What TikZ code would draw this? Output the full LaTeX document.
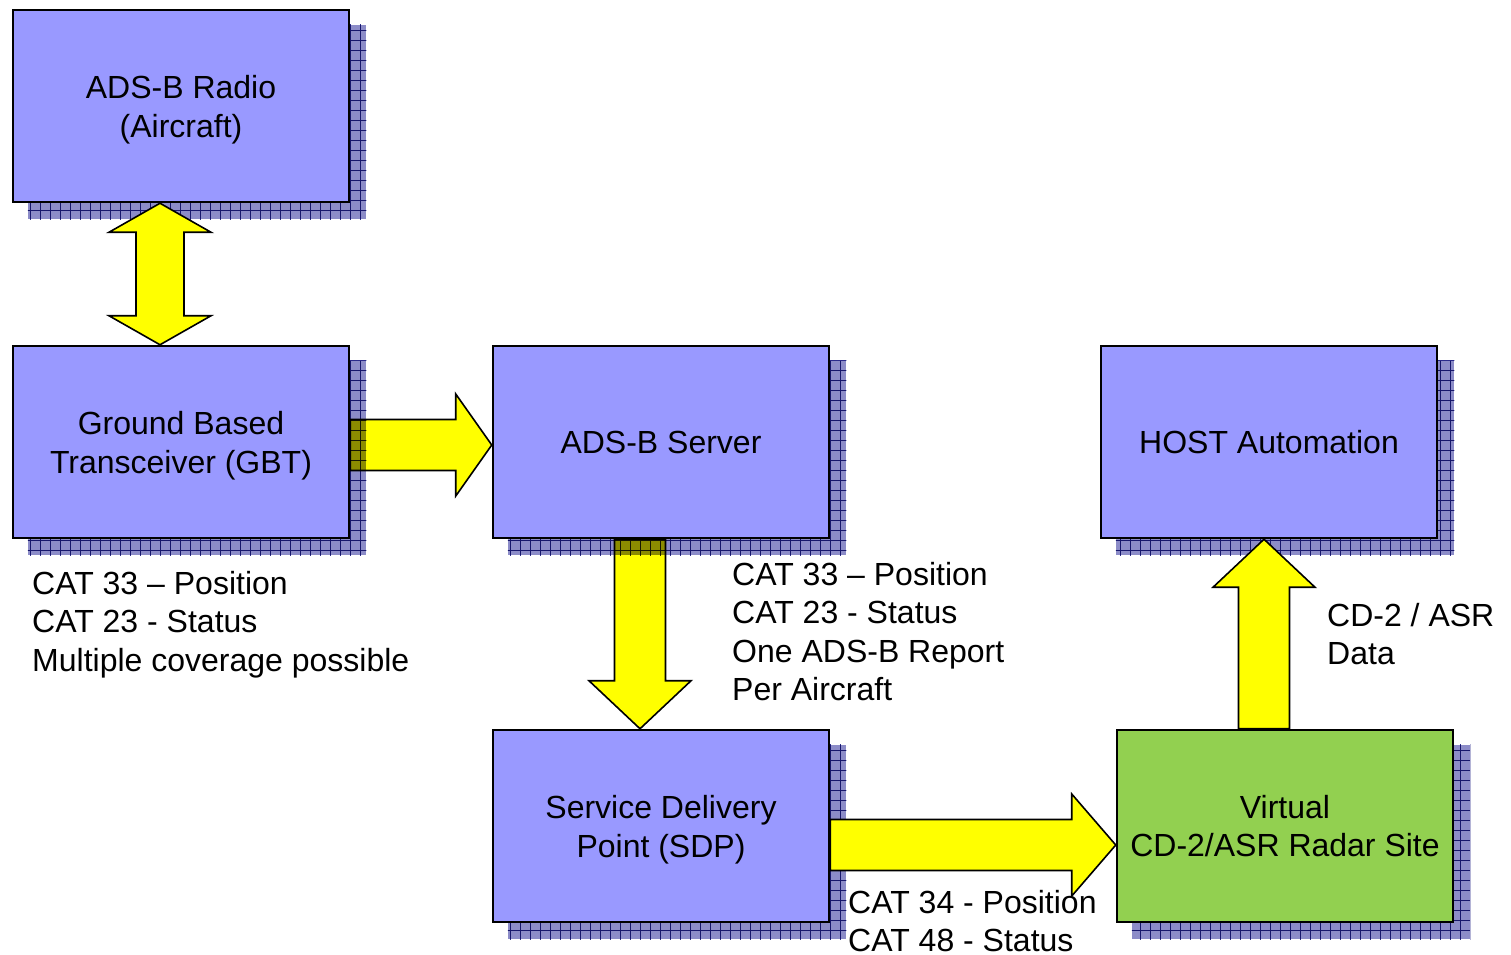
\documentclass[tikz,border=0pt]{standalone}
\usepackage{fontspec}
\setmainfont{Liberation Sans}
\usetikzlibrary{calc,backgrounds}

\definecolor{boxblue}{HTML}{9999FF}
\definecolor{boxgreen}{HTML}{92D050}
\definecolor{arrowyellow}{HTML}{FFFF00}
\definecolor{shadowfill}{HTML}{8C8CC8}
\definecolor{shadowline}{HTML}{2A2A8A}

\newcommand{\diagfont}{\fontsize{32}{38.5}\selectfont}
\newcommand{\topstrut}{\rule{0pt}{31pt}}

% fat block arrow from #2 to #3, head length #1
\newcommand{\fatarrow}[3][40pt]{%
  \coordinate (fa-h) at ($(#3)!#1!(#2)$);
  \draw[fatarrowstyle] ($(#2)!25.5pt!90:(#3)$) -- ($(fa-h)!25.5pt!-90:(#2)$)
    -- ($(fa-h)!51pt!-90:(#2)$) -- (#3) -- ($(fa-h)!51pt!90:(#2)$)
    -- ($(fa-h)!25.5pt!90:(#2)$) -- ($(#2)!25.5pt!-90:(#3)$) -- cycle;}

% double headed block arrow between #1 and #2
\newcommand{\dblarrow}[2]{%
  \coordinate (da-h1) at ($(#1)!29pt!(#2)$);
  \coordinate (da-h2) at ($(#2)!29pt!(#1)$);
  \draw[fatarrowstyle] (#1) -- ($(da-h1)!51pt!-90:(#2)$) -- ($(da-h1)!24pt!-90:(#2)$)
    -- ($(da-h2)!24pt!90:(#1)$) -- ($(da-h2)!51pt!90:(#1)$) -- (#2)
    -- ($(da-h2)!51pt!-90:(#1)$) -- ($(da-h2)!24pt!-90:(#1)$)
    -- ($(da-h1)!24pt!90:(#2)$) -- ($(da-h1)!51pt!90:(#2)$) -- cycle;}

\tikzset{
  blockbox/.style={draw, line width=2.5pt, fill=boxblue, minimum width=336pt,
    minimum height=192pt, inner sep=0pt, align=center, font=\diagfont},
  notetext/.style={inner sep=0pt, align=left, anchor=north west, font=\diagfont},
  fatarrowstyle/.style={draw, line width=1.6pt, fill=arrowyellow, line join=miter},
  shadowbg/.style={fill=shadowfill},
  shadowgrid/.style={draw=shadowline, line width=0.6pt}
}

\begin{document}
\begin{tikzpicture}[x=1pt, y=-1pt]
\useasboundingbox (0,0) rectangle (1511,954);

% Boxes
\node[blockbox] (radio) at (181,106) {\topstrut ADS-B Radio\\(Aircraft)};
\node[blockbox] (gbt) at (181,442) {\topstrut Ground Based\\Transceiver (GBT)};
\node[blockbox] (server) at (661,442) {ADS-B Server};
\node[blockbox] (host) at (1269,442) {HOST Automation};
\node[blockbox] (sdp) at (661,826) {\topstrut Service Delivery\\Point (SDP)};
\node[blockbox, fill=boxgreen] (virtual) at (1285,826) {Virtual\\CD-2/ASR Radar Site};

% Notes
\node[notetext] (gbtnote) at (32,571) {CAT 33 – Position\\CAT 23 - Status\\Multiple coverage possible};
\node[notetext] (servernote) at (732,562) {CAT 33 – Position\\CAT 23 - Status\\One ADS-B Report\\Per Aircraft};
\node[notetext] (hostnote) at (1327,603) {CD-2 / ASR\\Data};
\node[notetext] (sdpnote) at (848,890) {CAT 34 - Position\\CAT 48 - Status};

% Arrows and shadows
\begin{pgfonlayer}{background}
\coordinate (g2) at ($(gbt.east)+(0,3)$);
\coordinate (s1) at ($(server.west)+(0,3)$);
\fatarrow[36pt]{g2}{s1}
\coordinate (s2) at ($(server.south)+(-21,0)$);
\coordinate (d1) at ($(sdp.north)+(-21,0)$);
\fatarrow[48pt]{s2}{d1}

\begin{scope}[blend mode=multiply]
\foreach \n in {radio,gbt,server,host,sdp,virtual}{
  \fill[shadowbg] ($(\n.north west)+(16,16)$) rectangle ($(\n.south east)+(16,16)$);
  \begin{scope}
    \clip ($(\n.north west)+(16,16)$) rectangle ($(\n.south east)+(16,16)$);
    \draw[shadowgrid, step=10pt] ($(\n.north west)+(10,10)$) grid ($(\n.south east)+(22,22)$);
  \end{scope}
}
\end{scope}

\coordinate (r1) at ($(radio.south)+(-21,0)$);
\coordinate (g1) at ($(gbt.north)+(-21,0)$);
\dblarrow{r1}{g1}
\coordinate (d2) at ($(sdp.east)+(0,19)$);
\coordinate (v1) at ($(virtual.west)+(0,19)$);
\fatarrow[44pt]{d2}{v1}
\coordinate (v2) at ($(virtual.north)+(-21,0)$);
\coordinate (h1) at ($(host.south)+(-5,0)$);
\fatarrow[48pt]{v2}{h1}
\end{pgfonlayer}
\end{tikzpicture}
\end{document}
